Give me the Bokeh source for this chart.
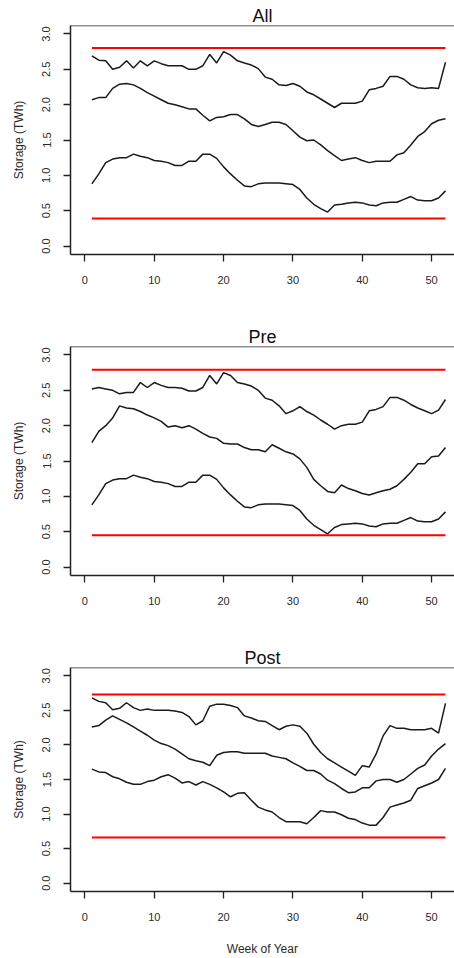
from bokeh.plotting import figure
from bokeh.layouts import column
from bokeh.models import FixedTicker, NumeralTickFormatter, Span, Range1d
from bokeh.embed import file_html
from bokeh.resources import INLINE

weeks = list(range(1, 53))

all_upper = [2.69, 2.63, 2.62, 2.50, 2.53, 2.62, 2.52, 2.62, 2.55, 2.62,
             2.58, 2.55, 2.55, 2.55, 2.50, 2.50, 2.55, 2.71, 2.59, 2.75,
             2.70, 2.62, 2.59, 2.56, 2.51, 2.39, 2.36, 2.28, 2.27, 2.30,
             2.26, 2.18, 2.14, 2.08, 2.02, 1.96, 2.02, 2.02, 2.02, 2.05,
             2.21, 2.23, 2.26, 2.40, 2.40, 2.36, 2.28, 2.24, 2.23, 2.24,
             2.23, 2.60]
all_median = [2.07, 2.10, 2.10, 2.23, 2.29, 2.30, 2.28, 2.23, 2.17, 2.12,
              2.07, 2.02, 2.00, 1.97, 1.94, 1.94, 1.85, 1.77, 1.82, 1.83,
              1.86, 1.86, 1.80, 1.72, 1.69, 1.72, 1.75, 1.75, 1.72, 1.63,
              1.54, 1.49, 1.50, 1.43, 1.35, 1.28, 1.21, 1.23, 1.25, 1.21,
              1.18, 1.20, 1.20, 1.20, 1.29, 1.32, 1.43, 1.55, 1.62, 1.73,
              1.78, 1.80]
all_lower = [0.88, 1.02, 1.18, 1.23, 1.25, 1.25, 1.30, 1.27, 1.25, 1.21,
             1.20, 1.18, 1.14, 1.14, 1.20, 1.20, 1.30, 1.30, 1.24, 1.12,
             1.02, 0.93, 0.85, 0.84, 0.88, 0.89, 0.89, 0.89, 0.88, 0.87,
             0.80, 0.68, 0.59, 0.53, 0.48, 0.58, 0.59, 0.61, 0.62, 0.61,
             0.58, 0.57, 0.61, 0.62, 0.62, 0.66, 0.70, 0.65, 0.64, 0.64,
             0.68, 0.78]
all_limits = [2.80, 0.39]

pre_upper = [2.52, 2.54, 2.52, 2.50, 2.45, 2.47, 2.47, 2.61, 2.54, 2.61,
             2.57, 2.54, 2.54, 2.53, 2.49, 2.49, 2.54, 2.71, 2.59, 2.75,
             2.71, 2.61, 2.59, 2.56, 2.50, 2.39, 2.36, 2.28, 2.17, 2.21,
             2.27, 2.20, 2.15, 2.08, 2.02, 1.95, 2.00, 2.02, 2.02, 2.05,
             2.21, 2.23, 2.27, 2.40, 2.40, 2.36, 2.30, 2.25, 2.21, 2.17,
             2.22, 2.37]
pre_median = [1.76, 1.92, 2.00, 2.11, 2.28, 2.25, 2.24, 2.20, 2.15, 2.11,
              2.06, 1.98, 2.00, 1.97, 2.00, 1.95, 1.89, 1.84, 1.82, 1.75,
              1.74, 1.74, 1.69, 1.66, 1.66, 1.63, 1.73, 1.68, 1.63, 1.60,
              1.53, 1.41, 1.24, 1.15, 1.07, 1.05, 1.16, 1.11, 1.08, 1.04,
              1.02, 1.05, 1.08, 1.10, 1.15, 1.24, 1.34, 1.46, 1.46, 1.56,
              1.57, 1.69]
pre_lower = [0.88, 1.02, 1.18, 1.23, 1.25, 1.25, 1.30, 1.27, 1.25, 1.21,
             1.20, 1.18, 1.14, 1.14, 1.20, 1.20, 1.30, 1.30, 1.24, 1.12,
             1.02, 0.93, 0.85, 0.84, 0.88, 0.89, 0.89, 0.89, 0.88, 0.87,
             0.80, 0.68, 0.59, 0.53, 0.47, 0.56, 0.60, 0.61, 0.62, 0.61,
             0.58, 0.57, 0.61, 0.62, 0.62, 0.66, 0.70, 0.65, 0.64, 0.64,
             0.68, 0.78]
pre_limits = [2.79, 0.45]

post_upper = [2.68, 2.63, 2.61, 2.51, 2.53, 2.61, 2.54, 2.50, 2.52, 2.50,
              2.50, 2.50, 2.49, 2.47, 2.41, 2.29, 2.35, 2.56, 2.59, 2.59,
              2.57, 2.54, 2.42, 2.39, 2.35, 2.34, 2.28, 2.22, 2.27, 2.29,
              2.27, 2.17, 2.01, 1.89, 1.80, 1.74, 1.68, 1.62, 1.56, 1.70,
              1.68, 1.87, 2.13, 2.28, 2.24, 2.24, 2.22, 2.22, 2.22, 2.24,
              2.17, 2.60]
post_median = [2.26, 2.28, 2.36, 2.42, 2.37, 2.32, 2.26, 2.20, 2.14, 2.07,
               2.02, 1.99, 1.94, 1.87, 1.80, 1.77, 1.75, 1.70, 1.85, 1.89,
               1.90, 1.90, 1.88, 1.88, 1.88, 1.88, 1.84, 1.82, 1.80, 1.74,
               1.69, 1.63, 1.63, 1.58, 1.49, 1.44, 1.37, 1.31, 1.32, 1.38,
               1.38, 1.48, 1.50, 1.50, 1.46, 1.50, 1.58, 1.66, 1.71, 1.84,
               1.94, 2.02]
post_lower = [1.65, 1.61, 1.60, 1.54, 1.51, 1.46, 1.43, 1.43, 1.47, 1.49,
              1.54, 1.57, 1.52, 1.45, 1.47, 1.42, 1.47, 1.43, 1.38, 1.32,
              1.25, 1.30, 1.31, 1.20, 1.10, 1.06, 1.03, 0.95, 0.89, 0.89,
              0.89, 0.86, 0.95, 1.05, 1.03, 1.03, 0.99, 0.94, 0.92, 0.87,
              0.84, 0.84, 0.95, 1.10, 1.13, 1.16, 1.20, 1.37, 1.41, 1.45,
              1.50, 1.66]
post_limits = [2.73, 0.66]

titles = ["All", "Pre", "Post"]
x_ticks = [0, 10, 20, 30, 40, 50]
y_ticks = [0.0, 0.5, 1.0, 1.5, 2.0, 2.5, 3.0]

FONT = "Liberation Sans"
TXT = "#2a2a2a"
X_START, X_END = -2.08, 53.30
Y_START, Y_END = -0.12, 3.12


def make_panel(title, upper, median, lower, limits, height, bottom_border, xlabel):
    p = figure(width=454, height=height, output_backend="svg", toolbar_location=None,
               x_range=Range1d(X_START, X_END), y_range=Range1d(Y_START, Y_END),
               min_border_left=70, min_border_right=0, min_border_top=25,
               min_border_bottom=bottom_border, title=title)
    p.title.align = "center"
    p.title.text_font = FONT
    p.title.text_font_size = "18px"
    p.title.text_font_style = "normal"
    p.title.text_color = "#111111"
    p.title.standoff = 0
    p.title.offset = 0

    p.grid.visible = False
    p.outline_line_color = None
    p.background_fill_color = "white"
    p.border_fill_color = "white"

    for ax in (p.xaxis[0], p.yaxis[0]):
        ax.axis_line_color = "#222222"
        ax.axis_line_width = 1.5
        ax.major_tick_line_color = "#222222"
        ax.major_tick_line_width = 1.3
        ax.major_tick_in = 0
        ax.major_tick_out = 7
        ax.minor_tick_line_color = None
        ax.major_label_text_font = FONT
        ax.major_label_text_font_size = "11px"
        ax.major_label_text_color = TXT

    p.xaxis.ticker = FixedTicker(ticks=x_ticks)
    p.xaxis.major_label_standoff = 14
    p.yaxis.ticker = FixedTicker(ticks=y_ticks)
    p.yaxis.formatter = NumeralTickFormatter(format="0.0")
    p.yaxis.major_label_orientation = "vertical"
    p.yaxis.major_label_standoff = 13

    p.yaxis.axis_label = "Storage (TWh)"
    p.yaxis.axis_label_text_font = FONT
    p.yaxis.axis_label_text_font_size = "12px"
    p.yaxis.axis_label_text_font_style = "normal"
    p.yaxis.axis_label_text_color = TXT
    p.yaxis.axis_label_standoff = 14
    if xlabel:
        p.xaxis.axis_label = xlabel
        p.xaxis.axis_label_text_font = FONT
        p.xaxis.axis_label_text_font_size = "12px"
        p.xaxis.axis_label_text_font_style = "normal"
        p.xaxis.axis_label_text_color = TXT
        p.xaxis.axis_label_standoff = 18

    # top edge of the box
    p.add_layout(Span(location=Y_END, dimension="width", line_color="#222222", line_width=1.5))

    for series in (upper, median, lower):
        p.line(weeks, series, line_color="#1a1a1a", line_width=1.5)
    for lim in limits:
        p.line([weeks[0], weeks[-1]], [lim, lim], line_color="#ff0000", line_width=2)
    return p


p1 = make_panel(titles[0], all_upper, all_median, all_lower, all_limits, 321, 67, None)
p2 = make_panel(titles[1], pre_upper, pre_median, pre_lower, pre_limits, 321, 67, None)
p3 = make_panel(titles[2], post_upper, post_median, post_lower, post_limits, 316, 63, "Week of Year")

layout = column(p1, p2, p3, spacing=0)
open("out.html", "w").write(file_html(layout, INLINE))
